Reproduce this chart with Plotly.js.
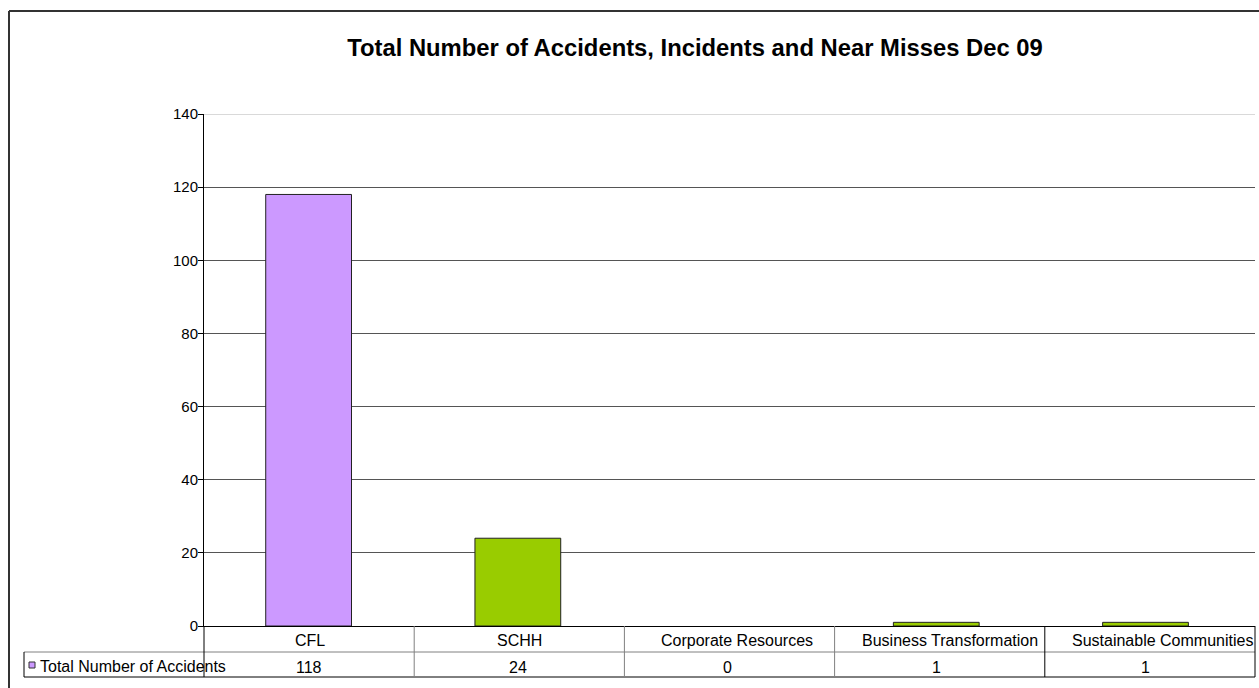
<!DOCTYPE html>
<html>
<head>
<meta charset="utf-8">
<script src="https://cdn.plot.ly/plotly-3.0.1.min.js"></script>
<style>html,body{margin:0;padding:0;background:#fff;}#chart{width:1259px;height:688px;}</style>
</head>
<body>
<div id="chart"></div>
<script>
// ---- data ----
const categories = ["CFL", "SCHH", "Corporate Resources", "Business Transformation", "Sustainable Communities"];
const values = [118, 24, 0, 1, 1];
const barColors = ["#CC99FF", "#99CC00", "#99CC00", "#99CC00", "#99CC00"];
const seriesName = "Total Number of Accidents";
const yTicks = [0, 20, 40, 60, 80, 100, 120, 140];
const titleText = "Total Number of Accidents, Incidents and Near Misses Dec 09";

// ---- layout helpers (pixel -> paper) ----
const W = 1259, H = 688;
const L = 204, R = 1255, T = 114, B = 626;
const px = x => (x - L) / (R - L);
const py = y => (B - y) / (B - T);
const font = "Arial, 'Liberation Sans', sans-serif";
const labelShift = [1, 2, 10, 14, 17];

const shapes = [];
function line(x0, y0, x1, y1, color, width) {
  shapes.push({type: "line", xref: "paper", yref: "paper",
    x0: px(x0), y0: py(y0), x1: px(x1), y1: py(y1),
    line: {color: color, width: width || 1}, layer: "above"});
}
// light top gridline at 140
shapes.push({type: "line", xref: "paper", yref: "y", x0: 0, x1: 1, y0: 140, y1: 140,
  line: {color: "#d9d9d9", width: 2}, layer: "above"});
// outer frame (top & left)
line(9, 11, 1262, 11, "#333", 2);
line(9, 11, 9, 700, "#333", 2);
// data table
line(24, 652, 1255, 652, "#808080", 1);
line(24, 677, 1255, 677, "#000", 1);
line(24, 652, 24, 677, "#000", 1);
line(204, 626, 204, 677, "#000", 1);
const colW = (R - L) / categories.length;
for (let i = 1; i <= categories.length; i++) {
  const xx = L + colW * i;
  line(xx, 626, xx, 677, i === 4 || i === 5 ? "#000" : "#808080", 1);
}
// legend key
shapes.push({type: "rect", xref: "paper", yref: "paper",
  x0: px(29), x1: px(35), y0: py(668), y1: py(662),
  fillcolor: barColors[0], line: {color: "#333", width: 1}, layer: "above"});

const annotations = [];
categories.forEach((c, i) => {
  annotations.push({xref: "x", yref: "paper", x: c, y: py(640), text: c, showarrow: false,
    xanchor: "center", yanchor: "middle", xshift: labelShift[i],
    font: {family: font, size: 16, color: "#000"}});
  annotations.push({xref: "x", yref: "paper", x: c, y: py(667), text: String(values[i]), showarrow: false,
    xanchor: "center", yanchor: "middle", font: {family: font, size: 16, color: "#000"}});
});
annotations.push({xref: "paper", yref: "paper", x: px(38), y: py(666), text: seriesName, showarrow: false,
  xanchor: "left", yanchor: "middle", font: {family: font, size: 16, color: "#000"}});

const trace = {
  type: "bar", x: categories, y: values, name: seriesName,
  marker: {color: barColors, line: {color: "#222", width: values.map(v => v === 0 ? 0 : 1)}},
  hoverinfo: "x+y"
};

const layout = {
  width: W, height: H,
  margin: {l: L, r: W - R, t: T, b: H - B, pad: 0},
  paper_bgcolor: "#fff", plot_bgcolor: "#fff",
  showlegend: false,
  bargap: 0.59,
  title: {text: "<b>" + titleText + "</b>", font: {family: font, size: 23.8, color: "#000"},
    xref: "paper", x: px(695), xanchor: "center", yref: "container", y: 1 - 48 / H, yanchor: "middle"},
  xaxis: {type: "category", showticklabels: false, ticks: "", showline: true, linecolor: "#000", linewidth: 1,
    showgrid: false, zeroline: false, fixedrange: true},
  yaxis: {range: [0, 140], tickvals: yTicks, ticks: "outside", ticklen: 5, tickcolor: "#000",
    showline: true, linecolor: "#000", linewidth: 1, showgrid: true, gridcolor: "#555", gridwidth: 1,
    zeroline: false, tickfont: {family: font, size: 15, color: "#000"}, ticklabelstandoff: -3},
  shapes: shapes,
  annotations: annotations
};

Plotly.newPlot("chart", [trace], layout, {displayModeBar: false, staticPlot: true});
</script>
</body>
</html>
